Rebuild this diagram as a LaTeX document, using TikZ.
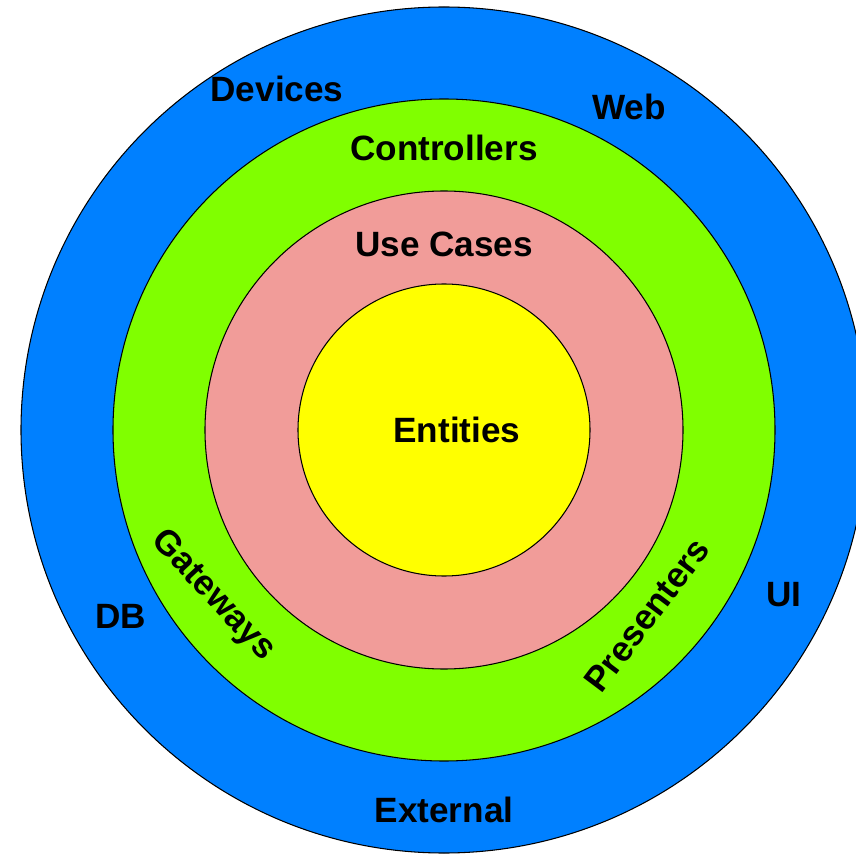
\documentclass[tikz,border=0pt]{standalone}
\usepackage{fontspec}
\setmainfont{Liberation Sans}

\definecolor{outerBlue}{RGB}{0,128,255}
\definecolor{ringGreen}{RGB}{128,255,0}
\definecolor{ringPink}{RGB}{241,156,153}
\definecolor{coreYellow}{RGB}{255,255,0}

\def \entitiesRadius {2.92}
\def \useCasesRadius {4.78}
\def \adaptersRadius {6.62}
\def \outerRadius {8.46}

\tikzset{
  layerText/.style={font=\fontsize{20}{24}\selectfont\bfseries, inner sep=0pt},
  layerRing/.style={draw=black, line width=0.6pt}
}

\begin{document}
\begin{tikzpicture}
         \clip (-8.88,-8.46) rectangle (8.24,8.6);
         \fill[white] (-8.88,-8.46) rectangle (8.24,8.6);
         \filldraw[layerRing, fill=outerBlue] (0, 0) circle (\outerRadius);
         \filldraw[layerRing, fill=ringGreen] (0, 0) circle (\adaptersRadius);
         \filldraw[layerRing, fill=ringPink] (0, 0) circle (\useCasesRadius);
         \filldraw[layerRing, fill=coreYellow] (0, 0) circle (\entitiesRadius);
         % outer layer
         \node[layerText] (devices) at (-3.34, 6.82) {Devices};
         \node[layerText] (web) at (3.70, 6.46) {Web};
         \node[layerText] (db) at (-6.46, -3.72) {DB};
         \node[layerText] (ui) at (6.80, -3.30) {UI};
         \node[layerText] (external) at (0, -7.60) {External};
         % adapters layer
         \node[layerText] (controllers) at (0, 5.64) {Controllers};
         \node[layerText, rotate=-47] (gateways) at (-4.62, -3.32) {Gateways};
         \node[layerText, rotate=53] (presenters) at (4.06, -3.70) {Presenters};
         % inner layers
         \node[layerText] (useCases) at (0, 3.72) {Use Cases};
         \node[layerText] (entities) at (0.26, 0) {Entities};
      \end{tikzpicture}
\end{document}
